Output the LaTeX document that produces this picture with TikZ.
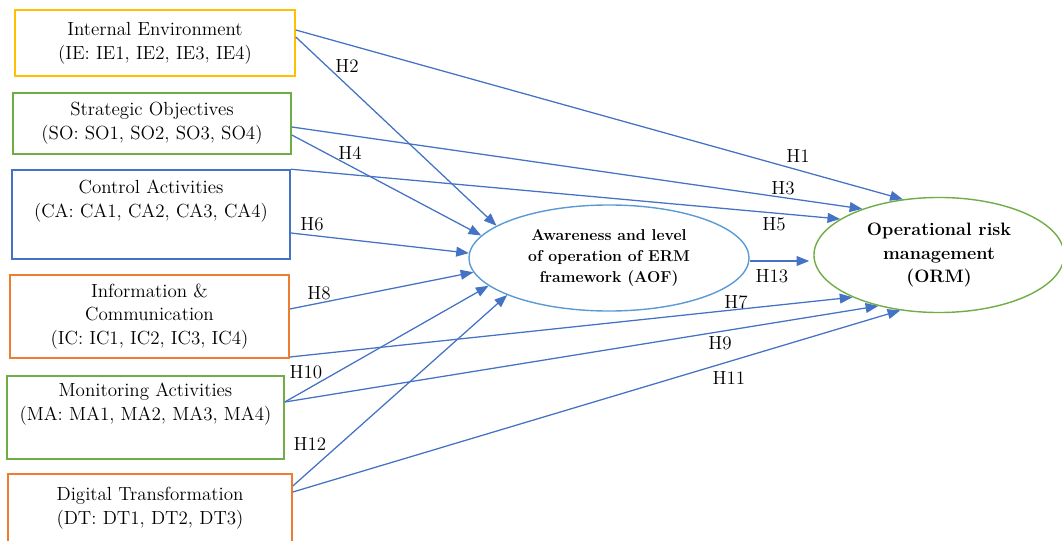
\documentclass[tikz,border=0pt]{standalone}
\usepackage{fontspec}
\usepackage{xcolor}
\usepackage{tikz}
\usetikzlibrary{arrows.meta, shapes.geometric, calc}
\definecolor{ieyellow}{HTML}{FFC000}
\definecolor{leafgreen}{HTML}{70AD47}
\definecolor{deepblue}{HTML}{4472C4}
\definecolor{burnt}{HTML}{ED7D31}
\definecolor{skyblue}{HTML}{5B9BD5}

\begin{document}
\begin{tikzpicture}[x=0.025cm, y=0.025cm,
    every node/.style={font=\fontsize{13.5}{17}\selectfont},
    factor/.style={draw, line width=1.1pt, align=center, inner sep=0pt},
    construct/.style={ellipse, draw, line width=1pt, align=center, inner sep=0pt},
    hyp/.style={draw=deepblue, line width=0.9pt, -{Triangle[length=9pt, width=7pt]}}]
  \useasboundingbox (0,0) rectangle (1062,540);

  % left side: the six factors
  \node[factor, draw=ieyellow, minimum width=7cm, minimum height=1.65cm]
        (ie) at (155,497) {Internal Environment\\(IE: IE1, IE2, IE3, IE4)};
  \node[factor, draw=leafgreen, minimum width=6.95cm, minimum height=1.525cm]
        (so) at (152,416.5) {Strategic Objectives\\(SO: SO1, SO2, SO3, SO4)};
  \node[factor, draw=deepblue, minimum width=6.95cm, minimum height=2.225cm]
        (ca) at (151,325.5) {Control Activities\\(CA: CA1, CA2, CA3, CA4)\\\strut};
  \node[factor, draw=burnt, minimum width=6.975cm, minimum height=2.075cm]
        (ic) at (149.5,223.5) {Information \&\\Communication\\(IC: IC1, IC2, IC3, IC4)};
  \node[factor, draw=leafgreen, minimum width=6.925cm, minimum height=2.075cm]
        (ma) at (145.5,122.5) {Monitoring Activities\\(MA: MA1, MA2, MA3, MA4)\\\strut};
  \node[factor, draw=burnt, minimum width=7.1cm, minimum height=1.7cm]
        (dt) at (150,32) {Digital Transformation\\(DT: DT1, DT2, DT3)};

  % mediator and outcome
  \node[construct, draw=skyblue, minimum width=7cm, minimum height=2.65cm,
        font=\fontsize{11.2}{15}\selectfont\bfseries]
        (aof) at (609,282) {Awareness and level\\of operation of ERM\\framework (AOF)};
  \node[construct, draw=leafgreen, minimum width=6.25cm, minimum height=2.875cm,
        font=\fontsize{12.8}{17}\selectfont\bfseries]
        (orm) at (939,285) {Operational risk\\management\\(ORM)};

  % hypothesised paths
  \draw[hyp] ($(ie.east)+(0,13)$) -- (orm.123);
  \draw[hyp] ($(ie.east)+(0,6)$) -- (aof.164);
  \draw[hyp] ($(so.east)+(0,-3.5)$) -- (orm.149);
  \draw[hyp] ($(so.east)+(0,-11.5)$) -- (aof.170);
  \draw[hyp] (ca.north east) -- (orm.160);
  \draw[hyp] ($(ca.east)+(0,-18.5)$) -- (aof.178);
  \draw[hyp] ($(ic.east)+(0,7.5)$) -- (aof.186);
  \draw[hyp] ($(ic.east)+(0,-40.5)$) -- (orm.206);
  \draw[hyp] ($(ma.east)+(0,15.5)$) -- (aof.193);
  \draw[hyp] ($(ma.east)+(0,15.5)$) -- (orm.220);
  \draw[hyp] ($(dt.east)+(0,22)$) -- (aof.200);
  \draw[hyp] ($(dt.east)+(0,16)$) -- (orm.235);
  \draw[hyp] ($(aof.east)+(0,-3)$) -- ($(orm.west)+(-4,-6)$);

  % path labels
  \node (h1) at (798,384) {H1};
  \node (h2) at (347,474) {H2};
  \node (h3) at (783,352) {H3};
  \node (h4) at (350,387) {H4};
  \node (h5) at (774,316) {H5};
  \node (h6) at (312,316) {H6};
  \node (h7) at (736,238) {H7};
  \node (h8) at (319,247) {H8};
  \node (h9) at (720,197) {H9};
  \node (h10) at (306,168) {H10};
  \node (h11) at (729,162) {H11};
  \node (h12) at (310,96) {H12};
  \node (h13) at (772,264) {H13};
\end{tikzpicture}
\end{document}
